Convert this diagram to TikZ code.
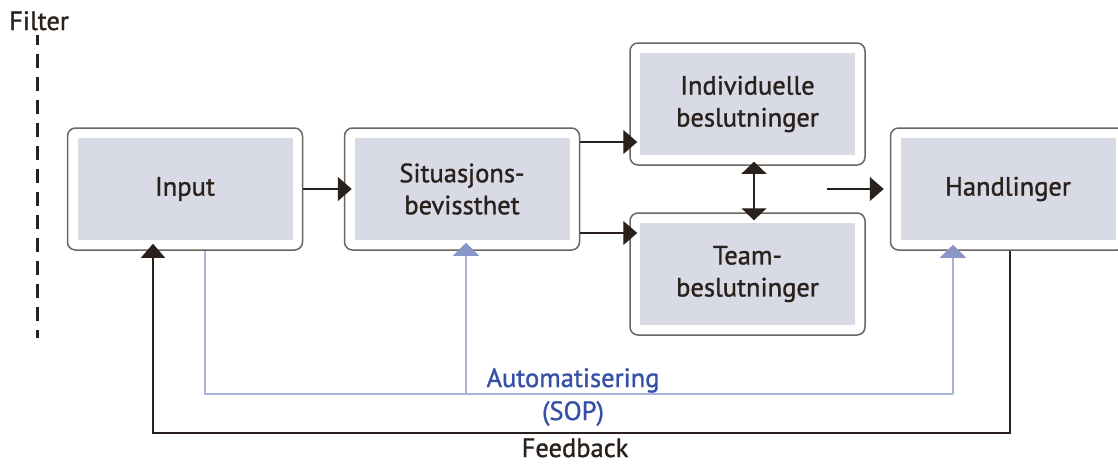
\documentclass[tikz,border=0pt]{standalone}
\usepackage{fontspec}
\setmainfont[FakeBold=1.2]{PT Sans}
\usetikzlibrary{arrows.meta,calc}
\definecolor{ink}{HTML}{2B211C}
\definecolor{frame}{HTML}{6B6560}
\definecolor{panel}{HTML}{D8DAE5}
\definecolor{autoline}{HTML}{A9B3DA}
\definecolor{autohead}{HTML}{8A96C8}
\definecolor{autotext}{HTML}{3550A6}
\tikzset{
  txt/.style={font=\fontsize{26.5}{32}\selectfont},
  box/.style={draw=frame, line width=1.5pt, rounded corners=8pt, fill=white,
    minimum width=235pt, minimum height=122pt, inner sep=0pt, align=center,
    text=ink, txt,
    path picture={\fill[panel, sharp corners]
      ([shift={(10pt,-10pt)}]path picture bounding box.north west) rectangle
      ([shift={(-10pt,10pt)}]path picture bounding box.south east);}},
  arr/.style={draw=ink, line width=1.4pt, -{Triangle[length=14pt,width=24pt]}},
  arrboth/.style={draw=ink, line width=1.4pt,
    {Triangle[length=12pt,width=25pt]}-{Triangle[length=12pt,width=25pt]}},
  autoarr/.style={draw=autoline, line width=1.2pt,
    -{Triangle[length=13pt,width=26pt,color=autohead]}},
  lbl/.style={anchor=base, inner sep=0pt, txt},
}
\begin{document}
\begin{tikzpicture}[x=1pt,y=-1pt]
\useasboundingbox (0,0) rectangle (1118,463);

% filter marker
\node[lbl, anchor=base west, text=ink] (filter) at (9,30) {Filter};
\coordinate (ftop) at (37,35);
\coordinate (fbot) at (37,338);
\draw[ink, line width=3pt, dash pattern=on 14pt off 9pt, dash phase=4pt] (ftop) -- (fbot);

% process boxes
\node[box] (in)    at (185,189)    {Input};
\node[box] (sit)   at (462,189)    {Situasjons-\\bevissthet};
\node[box] (indiv) at (747.5,104)  {Individuelle\\beslutninger};
\node[box] (team)  at (747.5,274)  {Team-\\beslutninger};
\node[box] (hand)  at (1008,189)   {Handlinger};

% main flow
\draw[arr, shorten >=-8pt] (in.east) -- (sit.west);
\draw[arr, shorten >=-8pt] ([yshift=47pt]sit.east) coordinate (s1) -- (s1 -| indiv.west);
\draw[arr, shorten >=-8pt] ([yshift=-44pt]sit.east) coordinate (s2) -- (s2 -| team.west);
\draw[arrboth, shorten <=-4pt, shorten >=-8pt]
  ([xshift=6.5pt]indiv.south) -- ([xshift=6.5pt]team.north);
\coordinate (hin) at (827,189);
\draw[arr, shorten >=6pt] (hin) -- (hin -| hand.west);

% automation loop
\coordinate (auL) at (205,394);
\coordinate (auM) at (466,394);
\coordinate (auR) at (953,394);
\draw[autoline, line width=1.2pt] (in.south -| auL) -- (auL) -- (auR);
\draw[autoarr, shorten >=-8pt] (auM) -- (sit.south -| auM);
\draw[autoarr, shorten >=-6pt] (auR) -- (hand.south -| auR);
\node[lbl, text=autotext] (auto) at (573,387) {Automatisering};
\node[lbl, text=autotext] (sop)  at (573,420) {(SOP)};

% feedback loop
\coordinate (fbL) at (153,433);
\coordinate (fbR) at (1010,433);
\draw[arr, shorten >=-7pt] (hand.south -| fbR) -- (fbR) -- (fbL) -- (in.south -| fbL);
\node[lbl, text=ink] (fb) at (575,457) {Feedback};
\end{tikzpicture}
\end{document}
